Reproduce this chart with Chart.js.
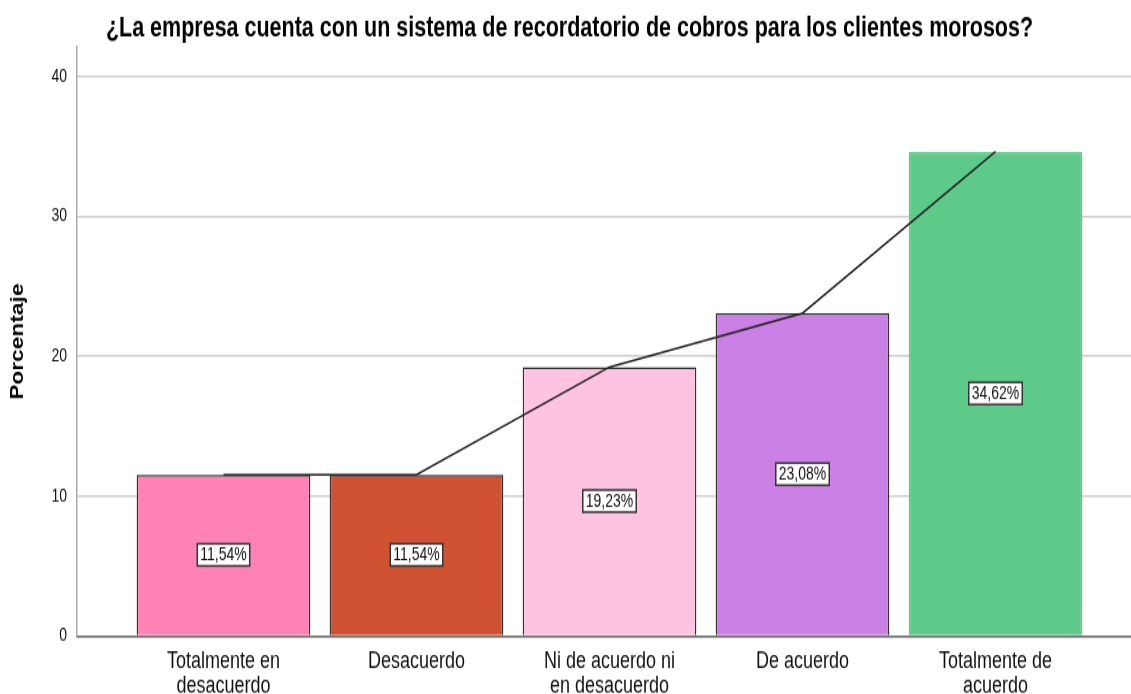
<!DOCTYPE html>
<html>
<head>
<meta charset="utf-8">
<script src="https://cdn.jsdelivr.net/npm/chart.js@4/dist/chart.umd.min.js"></script>
<style>
  html, body { margin: 0; padding: 0; background: #fff; }
  #chart { display: block; }
</style>
</head>
<body>
<!-- the original export is stretched vertically, so the canvas is drawn shorter and scaled by css -->
<canvas id="chart" width="1131" height="534" style="width:1131px;height:694px"></canvas>
<script>
const titleText  = '¿La empresa cuenta con un sistema de recordatorio de cobros para los clientes morosos?';
const categories = [
  ['Totalmente en', 'desacuerdo'],
  ['Desacuerdo'],
  ['Ni de acuerdo ni', 'en desacuerdo'],
  ['De acuerdo'],
  ['Totalmente de', 'acuerdo']
];
const pctValues  = [11.54, 11.54, 19.23, 23.08, 34.62];
const barColors  = ['#fe82b4', '#d05233', '#fdc3e1', '#ca80e5', '#5dca8a'];
const barBorders = ['#333333', '#333333', '#333333', '#333333', '#5dca8a'];
const yTicks     = [0, 10, 20, 30, 40];

const FONT = "'Liberation Sans', Arial, sans-serif";

const points = pctValues.map((v, i) => ({ x: i, y: v }));

// white boxed percentage in the middle of every bar
const barLabels = {
  id: 'barLabels',
  afterDatasetsDraw(chart) {
    const ctx  = chart.ctx;
    const meta = chart.getDatasetMeta(0);
    ctx.save();
    ctx.font = '14px ' + FONT;
    ctx.textAlign = 'center';
    ctx.textBaseline = 'middle';
    meta.data.forEach((bar, i) => {
      const txt = pctValues[i].toFixed(2).replace('.', ',') + '%';
      const w = ctx.measureText(txt).width + 6;
      const h = 17;
      const cx = bar.x;
      const cy = (bar.y + bar.base) / 2;
      ctx.fillStyle = '#fff';
      ctx.fillRect(cx - w / 2, cy - h / 2, w, h);
      ctx.strokeStyle = '#333';
      ctx.lineWidth = 1.5;
      ctx.strokeRect(cx - w / 2, cy - h / 2, w, h);
      ctx.fillStyle = '#111';
      ctx.fillText(txt, cx, cy + 0.5);
    });
    ctx.restore();
  }
};

new Chart(document.getElementById('chart'), {
  type: 'bar',
  data: {
    datasets: [
      {
        type: 'bar',
        data: points,
        backgroundColor: barColors,
        borderColor: barBorders,
        borderWidth: 1.5,
        barPercentage: 0.9,
        categoryPercentage: 1,
        order: 1
      },
      {
        type: 'line',
        data: points,
        borderColor: '#222',
        borderWidth: 1.5,
        pointRadius: 0,
        tension: 0,
        fill: false,
        order: 0
      }
    ]
  },
  options: {
    responsive: false,
    animation: false,
    layout: { padding: { left: 8, right: 0, top: 0, bottom: 0 } },
    plugins: {
      legend: { display: false },
      tooltip: { enabled: false },
      title: {
        display: true,
        text: titleText,
        color: '#000',
        font: { family: FONT, size: 21.5, weight: 'bold', lineHeight: 1.15 },
        padding: { top: 10, bottom: 1.5 }
      }
    },
    scales: {
      x: {
        type: 'linear',
        offset: false,
        min: -0.759,
        max: 4.702,
        grid: { display: false, drawTicks: false },
        border: { display: true, color: '#666', width: 1.5 },
        afterBuildTicks: s => { s.ticks = categories.map((c, i) => ({ value: i })); },
        afterFit: s => { s.height = 44.6; },
        ticks: {
          autoSkip: false,
          maxRotation: 0,
          padding: 10,
          color: '#111',
          font: { family: FONT, size: 18, lineHeight: 1.05 },
          callback: v => categories[v]
        }
      },
      y: {
        min: 0,
        max: 42.1,
        grid: { color: '#cfcfcf', lineWidth: 1.5, drawTicks: false },
        border: { display: true, color: '#aaa', width: 1.5 },
        afterBuildTicks: s => { s.ticks = yTicks.map(v => ({ value: v })); },
        afterFit: s => { s.width = 69; },
        ticks: {
          padding: 10,
          color: '#111',
          font: { family: FONT, size: 14 }
        },
        title: {
          display: true,
          text: 'Porcentaje',
          color: '#000',
          padding: { top: 0, bottom: 0 },
          font: { family: FONT, size: 17.5, weight: 'bold', lineHeight: 1.2 }
        }
      }
    }
  },
  plugins: [barLabels]
});
</script>
</body>
</html>
